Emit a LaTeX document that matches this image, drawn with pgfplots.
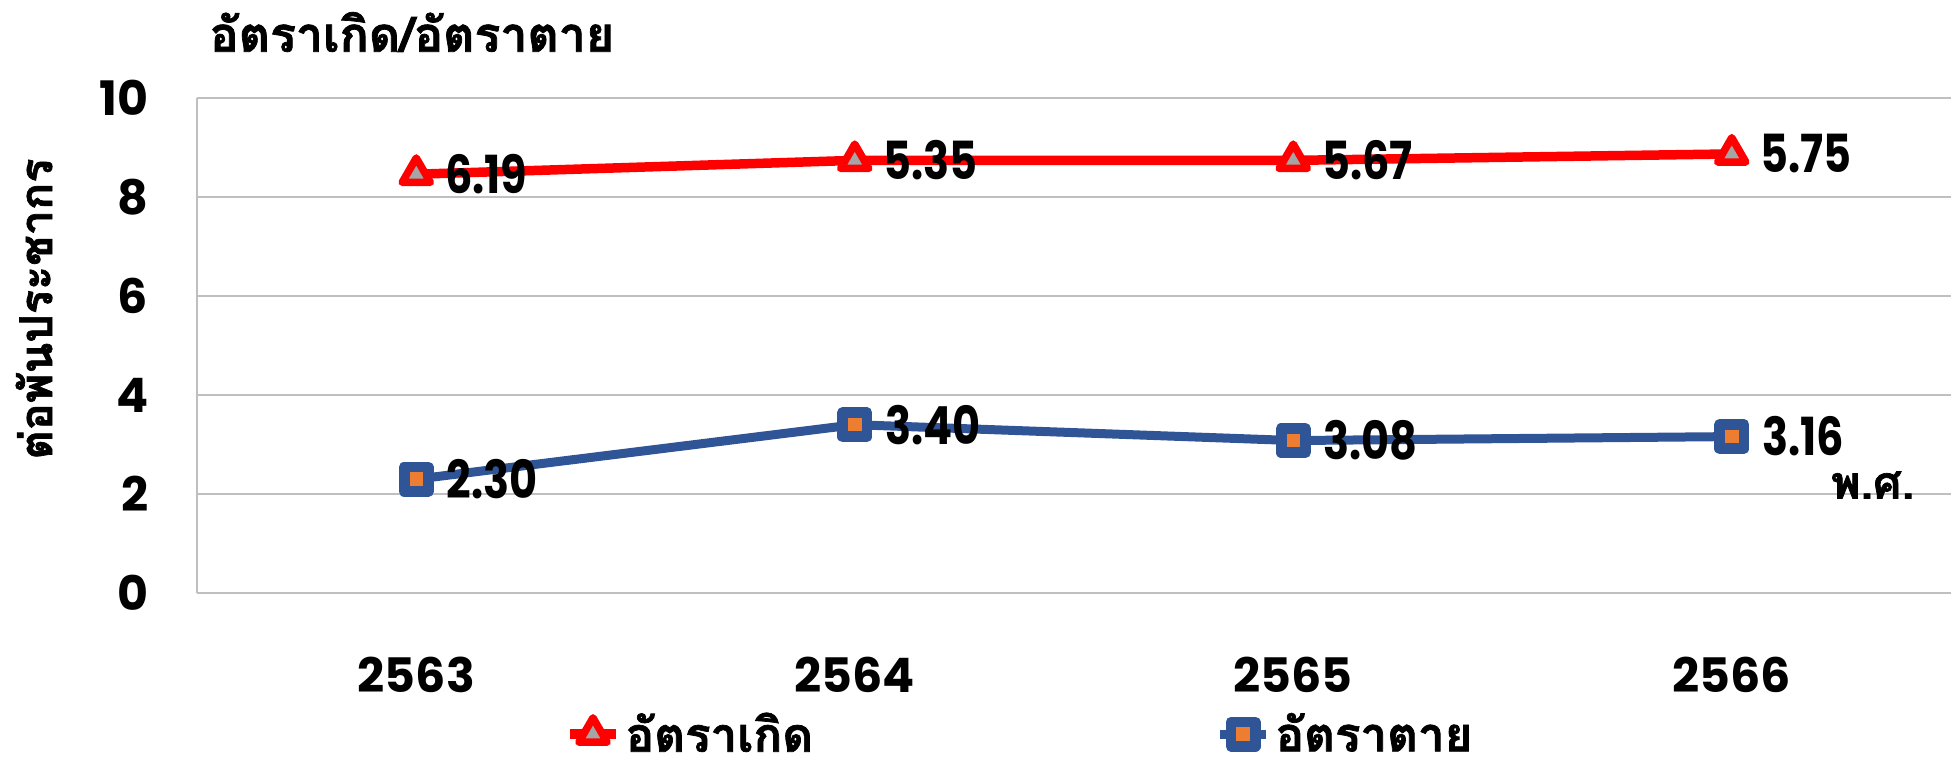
\documentclass[border=0pt]{standalone}
\usepackage{pgfplots}
\pgfplotsset{compat=1.18}
\usepackage{fontspec}
\setmainfont{Poppins}
\newfontfamily\thaifont[Script=Thai, BoldFeatures={FakeBold=1.5}]{Loma}
\newfontfamily\lblfont{Poppins}[FakeStretch=0.82]
\definecolor{birthred}{HTML}{FF0000}
\definecolor{deathblue}{HTML}{2F5597}
\definecolor{markorange}{HTML}{ED7D31}
\definecolor{markgrey}{HTML}{A5A5A5}
\definecolor{gridgrey}{HTML}{BFBFBF}

\begin{document}
\begin{tikzpicture}
\useasboundingbox (0,0) rectangle (780.4pt,305.2pt);
\begin{axis}[
    at={(78.8pt,68pt)}, anchor=south west,
    scale only axis, width=701.6pt, height=198pt,
    xmin=-0.5, xmax=3.5, ymin=0, ymax=10,
    xtick={0,1,2,3}, xticklabels={2563,2564,2565,2566},
    ytick={0,2,...,10},
    axis lines=left, axis line style={-, gridgrey, line width=0.8pt},
    ymajorgrids, grid style={gridgrey, line width=0.8pt},
    major tick length=0pt,
    /pgf/number format/assume math mode=true,
    yticklabel style={font=\fontsize{19}{22}\selectfont\bfseries, xshift=-16pt},
    xticklabel style={font=\fontsize{19}{22}\selectfont\bfseries, yshift=-22pt},
    legend style={at={(axis description cs:0.47,-0.285)}, anchor=center,
        draw=none, fill=none, legend columns=2,
        font=\thaifont\bfseries\fontsize{19}{21}\selectfont,
        nodes={inner xsep=2pt, inner ysep=0pt},
        /tikz/every even column/.append style={column sep=159pt}},
    legend image code/.code={\draw[mark repeat=2,mark phase=2,#1]
        plot coordinates {(0pt,0pt) (9.2pt,0pt) (18.4pt,0pt)};},
    nodes near coords, point meta=explicit symbolic,
    nodes near coords style={anchor=west, inner sep=0pt, xshift=10pt,
        font=\lblfont\bfseries\fontsize{21}{23}\selectfont, text=black},
]
% birth rate (red)
\addplot[birthred, line width=3.8pt, line join=round, mark=triangle*, mark size=6.5pt,
    mark options={fill=markgrey, draw=birthred, line width=3pt, line join=round}]
    coordinates {(0,8.46)[6.19] (1,8.74)[5.35] (2,8.74)[5.67] (3,8.87)[5.75]};
\addlegendentry{อัตราเกิด}
% death rate (blue)
\addplot[deathblue, line width=3.6pt, line join=round, mark=square*, mark size=4.85pt,
    mark options={fill=markorange, draw=deathblue, line width=4.3pt, line join=round}]
    coordinates {(0,2.30)[2.30] (1,3.40)[3.40] (2,3.08)[3.08] (3,3.16)[3.16]};
\addlegendentry{อัตราตาย}
\end{axis}
\node[font=\thaifont\bfseries\fontsize{19.3}{21}\selectfont] at (164.8pt,292.4pt) {อัตราเกิด/อัตราตาย};
\node[rotate=90, font=\thaifont\bfseries\fontsize{18}{20}\selectfont] at (13.6pt,181.6pt) {ต่อพันประชากร};
\node[anchor=east, font=\thaifont\bfseries\fontsize{18}{20}\selectfont] at (769.2pt,111.2pt) {พ.ศ.};
\end{tikzpicture}
\end{document}
